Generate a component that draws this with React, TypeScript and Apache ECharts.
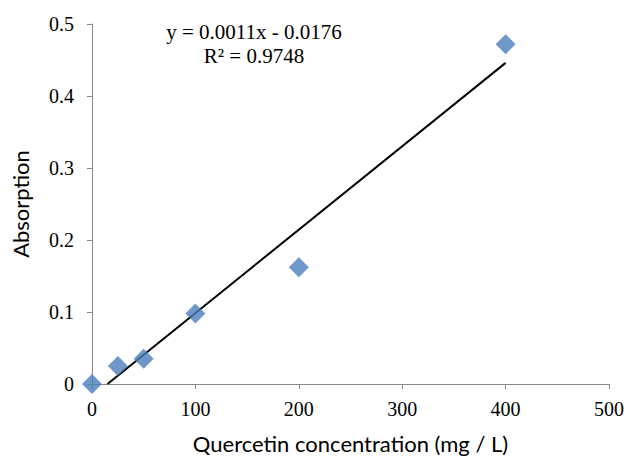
import React, { useEffect, useRef } from "react";
import * as echarts from "echarts";

const concentrations = [0, 25, 50, 100, 200, 400];
const absorptions = [0, 0.025, 0.035, 0.098, 0.162, 0.472];
const trendX = [15, 400];
const trendY = [0, 0.446];
const equationLines = ["y = 0.0011x - 0.0176", "R² = 0.9748"];

export default function App() {
  const ref = useRef<HTMLDivElement>(null);
  useEffect(() => {
    document.body.style.margin = "0";
    const chart = echarts.init(ref.current!, null, { renderer: "svg" });
    const serif = "'Liberation Serif', 'Times New Roman', serif";
    const sans = "Lato, 'Open Sans', sans-serif";
    chart.setOption({
      animation: false,
      backgroundColor: "#ffffff",
      grid: { left: 92, right: 17, top: 24, bottom: 78 },
      xAxis: {
        type: "value",
        min: 0,
        max: 500,
        interval: 100,
        name: "Quercetin concentration (mg / L)",
        nameLocation: "middle",
        nameGap: 48,
        nameTextStyle: { fontFamily: sans, fontSize: 22, color: "#000" },
        axisLine: { show: true, lineStyle: { color: "#868686", width: 1 } },
        axisTick: { show: true, length: 5, lineStyle: { color: "#868686" } },
        axisLabel: { fontFamily: serif, fontSize: 20, color: "#000", margin: 15 },
        splitLine: { show: false },
      },
      yAxis: {
        type: "value",
        min: 0,
        max: 0.5,
        interval: 0.1,
        name: "Absorption",
        nameLocation: "middle",
        nameGap: 61,
        nameRotate: 90,
        nameTextStyle: { fontFamily: sans, fontSize: 22, color: "#000" },
        axisLine: { show: true, lineStyle: { color: "#868686", width: 1 } },
        axisTick: { show: true, length: 5, lineStyle: { color: "#868686" } },
        axisLabel: { fontFamily: serif, fontSize: 20, color: "#000", margin: 18 },
        splitLine: { show: false },
      },
      series: [
        {
          type: "line",
          data: trendX.map((x, i) => [x, trendY[i]]),
          showSymbol: false,
          symbol: "none",
          lineStyle: { color: "#000", width: 2 },
          z: 1,
        },
        {
          type: "scatter",
          data: concentrations.map((x, i) => [x, absorptions[i]]),
          symbol: "diamond",
          symbolSize: 20,
          itemStyle: { color: "#4A7EBB" },
          z: 2,
        },
      ],
      graphic: [
        {
          type: "text",
          x: 254,
          y: 32,
          style: {
            text: equationLines[0],
            font: `21px ${serif}`,
            fill: "#000",
            align: "center",
            verticalAlign: "middle",
          },
        },
        {
          type: "text",
          x: 254,
          y: 56,
          style: {
            text: equationLines[1],
            font: `21px ${serif}`,
            fill: "#000",
            align: "center",
            verticalAlign: "middle",
          },
        },
      ],
    });
    return () => chart.dispose();
  }, []);
  return <div ref={ref} style={{ width: 627, height: 462 }} />;
}
